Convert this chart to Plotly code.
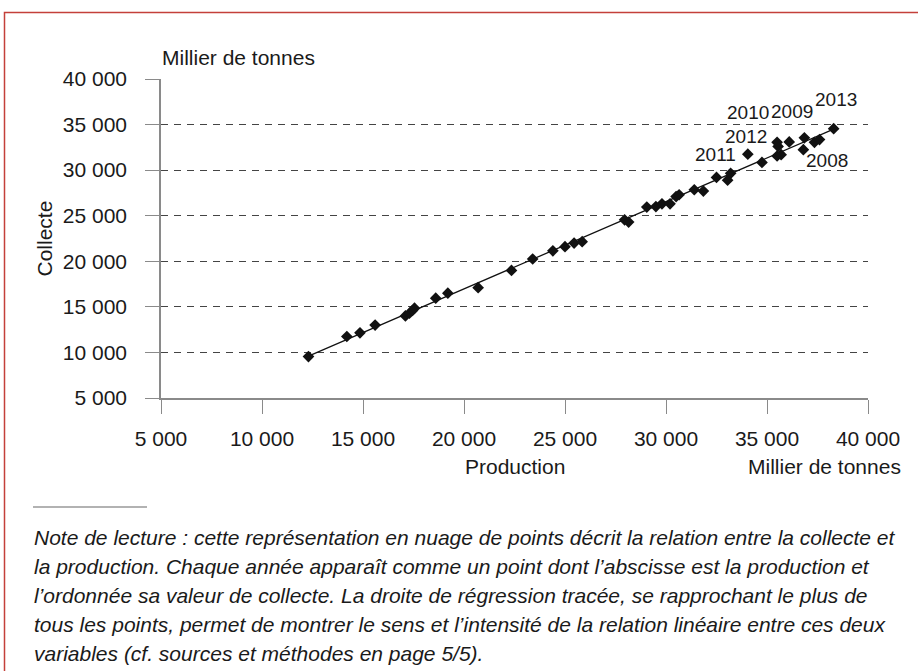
import numpy as np
import plotly.graph_objects as go

# Data (millier de tonnes)
production = [12300, 14200, 14850, 15600, 17100, 17300, 17450, 17550, 18600, 19200,
              20700, 22350, 23400, 24400, 25000, 25450, 25850, 27950, 28150, 29050,
              29500, 29800, 30200, 30500, 30650, 31400, 31850, 32500, 33050, 33200,
              34050, 34750, 35500, 35700, 35550, 35500, 36100, 36850, 36800, 37350,
              37600, 38300]
collecte = [9550, 11750, 12150, 13000, 14000, 14300, 14600, 14850, 15950, 16500,
            17100, 19000, 20250, 21150, 21600, 22000, 22150, 24550, 24300, 25950,
            26000, 26300, 26300, 27100, 27300, 27850, 27700, 29200, 28900, 29650,
            31750, 30850, 31550, 31700, 32600, 33050, 33100, 33550, 32250, 33050,
            33350, 34550]

# Labelled years: (year, index of point)
label_years = ["2013", "2009", "2010", "2012", "2011", "2008"]
label_idx = [41, 36, 35, 34, 30, 38]
label_shift = [(2, 29), (3, 30), (-29, 30), (-32, 10), (-32, 0), (24, -11)]

x_ticks = [5000, 10000, 15000, 20000, 25000, 30000, 35000, 40000]
y_ticks = [5000, 10000, 15000, 20000, 25000, 30000, 35000, 40000]
fmt = lambda v: f"{v:,}".replace(",", " ")

FONT = "Liberation Sans, Arial, sans-serif"
FS = 21

# regression line
a, b = np.polyfit(production, collecte, 1)
xr = np.array([min(production), max(production)])
yr = a * xr + b

fig = go.Figure()
fig.add_trace(go.Scatter(x=xr, y=yr, mode="lines",
                         line=dict(color="#111111", width=1.3),
                         hoverinfo="skip", showlegend=False))
fig.add_trace(go.Scatter(x=production, y=collecte, mode="markers",
                         marker=dict(symbol="diamond", size=9, color="#111111"),
                         showlegend=False))

L, R, T, B = 161, 50, 79, 273
W, H = 918, 671
pw, ph = W - L - R, H - T - B
px = lambda x: (x - L) / pw
py = lambda y: (H - B - y) / ph

ann = []
for yr_, i, (dx, dy) in zip(label_years, label_idx, label_shift):
    ann.append(dict(x=production[i], y=collecte[i], xref="x", yref="y", text=yr_,
                    showarrow=False, xshift=dx, yshift=dy,
                    font=dict(size=19, color="#1a1a1a", family=FONT)))

ann += [
    dict(x=px(160), y=py(57), xref="paper", yref="paper", text="Millier de tonnes",
         showarrow=False, xanchor="left", yanchor="middle",
         font=dict(size=FS, color="#1a1a1a", family=FONT)),
    dict(x=px(515), y=py(467), xref="paper", yref="paper", text="Production",
         showarrow=False, xanchor="center", yanchor="middle",
         font=dict(size=FS, color="#1a1a1a", family=FONT)),
    dict(x=px(903), y=py(467), xref="paper", yref="paper", text="Millier de tonnes",
         showarrow=False, xanchor="right", yanchor="middle",
         font=dict(size=FS, color="#1a1a1a", family=FONT)),
    dict(x=px(44), y=0.5, xref="paper", yref="paper", text="Collecte",
         showarrow=False, textangle=-90, xanchor="center", yanchor="middle",
         font=dict(size=FS, color="#1a1a1a", family=FONT)),
]

note = [
    "Note de lecture : cette représentation en nuage de points décrit la relation entre la collecte et",
    "la production. Chaque année apparaît comme un point dont l’abscisse est la production et",
    "l’ordonnée sa valeur de collecte. La droite de régression tracée, se rapprochant le plus de",
    "tous les points, permet de montrer le sens et l’intensité de la relation linéaire entre ces deux",
    "variables (cf. sources et méthodes en page 5/5).",
]
note_y = [537, 566, 595, 624, 653]
for t, yy in zip(note, note_y):
    ann.append(dict(x=px(32), y=py(yy), xref="paper", yref="paper", text=f"<i>{t}</i>",
                    showarrow=False, xanchor="left", yanchor="middle",
                    font=dict(size=FS, color="#1a1a1a", family=FONT)))

shapes = [
    dict(type="rect", xref="paper", yref="paper", x0=px(4.5), x1=px(930), y0=py(700), y1=py(12.5),
         line=dict(color="#c4403a", width=1.5), layer="below"),
    dict(type="line", xref="paper", yref="paper", x0=px(33), x1=px(147), y0=py(507), y1=py(507),
         line=dict(color="#999999", width=1.5)),
]

axis_common = dict(showline=True, linecolor="#8a8a8a", linewidth=1.5,
                   ticks="outside", ticklen=14, tickcolor="#8a8a8a", tickwidth=1.3,
                   tickfont=dict(size=FS, color="#1a1a1a", family=FONT),
                   zeroline=False)

fig.update_layout(
    width=W, height=H,
    margin=dict(l=L, r=R, t=T, b=B, pad=0),
    paper_bgcolor="white", plot_bgcolor="white",
    xaxis=dict(range=[5000, 40000], tickvals=x_ticks, ticktext=[fmt(v) for v in x_ticks],
               showgrid=False, ticklabelstandoff=7, **axis_common),
    yaxis=dict(range=[5000, 40000], tickvals=y_ticks, ticktext=[fmt(v) for v in y_ticks],
               showgrid=True, gridcolor="#444444", gridwidth=1, griddash="7px,6px",
               ticklabelstandoff=14, **axis_common),
    annotations=ann, shapes=shapes,
    font=dict(family=FONT),
)

fig.write_html("out.html", config={"displayModeBar": False},
               post_script="document.body.style.margin='0';")
